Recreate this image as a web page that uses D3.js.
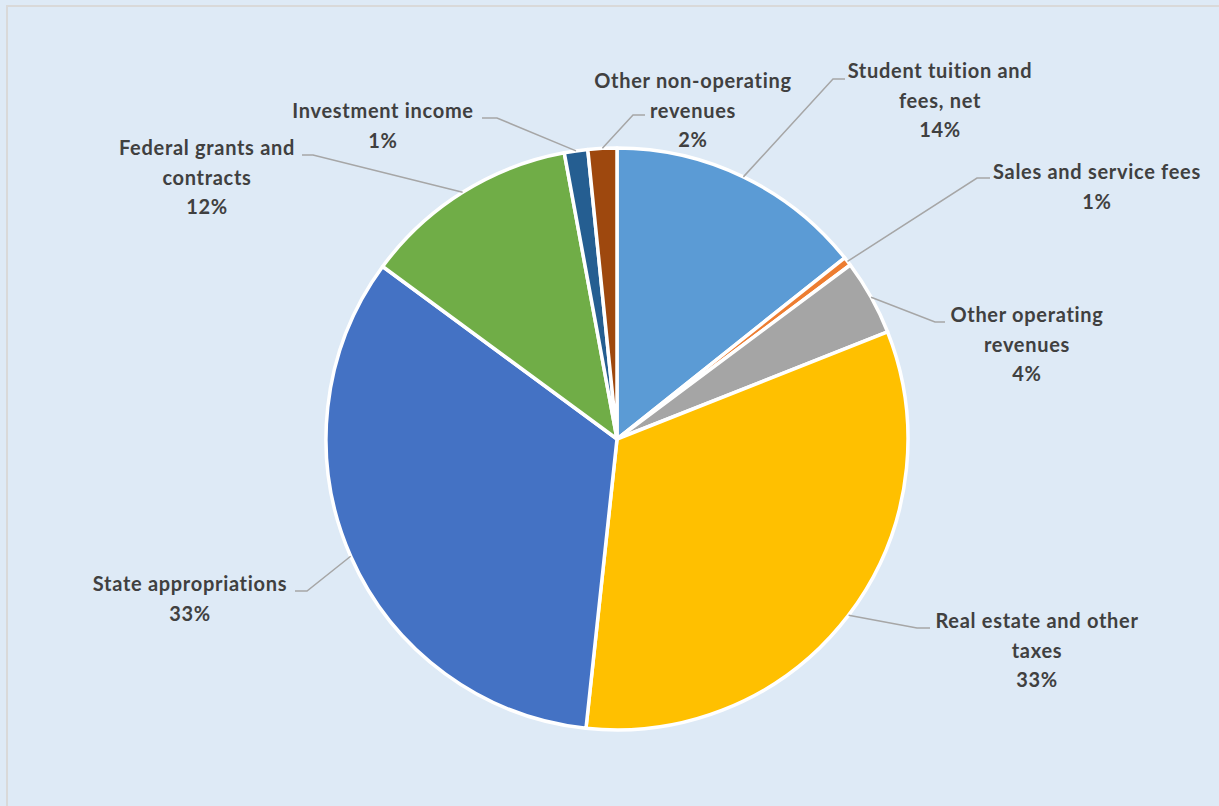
<!DOCTYPE html>
<html>
<head>
<meta charset="utf-8">
<script src="https://cdn.jsdelivr.net/npm/d3@7"></script>
<style>
  html, body { margin: 0; padding: 0; background: #DEEAF6; }
  svg { display: block; }
</style>
</head>
<body>
<svg id="chart" width="1219" height="806"></svg>
<script>
// revenue categories, clockwise from 12 o'clock
var categories = ["Student tuition and fees, net", "Sales and service fees", "Other operating revenues",
                  "Real estate and other taxes", "State appropriations", "Federal grants and contracts",
                  "Investment income", "Other non-operating revenues"];
var shares = [14.3, 0.5, 4.2, 32.7, 33.4, 12.0, 1.3, 1.6];
var colors = ["#5B9BD5", "#ED7D31", "#A5A5A5", "#FFC000", "#4472C4", "#70AD47", "#255E91", "#9E480E"];
// how each label's name is broken into lines
var labelLines = [["Student tuition and", "fees, net"], ["Sales and service fees"], ["Other operating", "revenues"],
                  ["Real estate and other", "taxes"], ["State appropriations"], ["Federal grants and", "contracts"],
                  ["Investment income"], ["Other non-operating", "revenues"]];

// label placement (layout only): text centre x, first line y, leader elbow, leader end
var labelLayout = [
  {x: 940,  y: 70,  elbow: [833, 79],  end: [845, 79]},
  {x: 1097, y: 171, elbow: [977, 178], end: [990, 178]},
  {x: 1027, y: 314, elbow: [935, 322], end: [945, 322]},
  {x: 1037, y: 620, elbow: [917, 628], end: [930, 628]},
  {x: 190,  y: 583, elbow: [307, 591], end: [295, 591]},
  {x: 207,  y: 147, elbow: [313, 155], end: [302, 155]},
  {x: 383,  y: 110, elbow: [497, 118], end: [482, 118]},
  {x: 693,  y: 80,  elbow: [633, 115], end: [645, 115]}
];

var svg = d3.select("#chart");
var centerX = 617, centerY = 439, radius = 291;
var lineStep = 29.5;
var total = d3.sum(shares);

// chart area border (only top and left visible)
svg.append("rect")
   .attr("x", 7).attr("y", 6)
   .attr("width", 1400).attr("height", 1000)
   .attr("fill", "#DEEAF6")
   .attr("stroke", "#D9D9D9")
   .attr("stroke-width", 2);

var pie = d3.pie().sort(null).value(function(d) { return d; });
var arcs = pie(shares);
var arc = d3.arc().innerRadius(0).outerRadius(radius);

var g = svg.append("g").attr("transform", "translate(" + centerX + "," + centerY + ")");

g.selectAll("path.slice")
   .data(arcs)
   .enter().append("path")
   .attr("class", "slice")
   .attr("d", arc)
   .attr("fill", function(d, i) { return colors[i]; })
   .attr("stroke", "white")
   .attr("stroke-width", 3.5)
   .attr("stroke-linejoin", "round");

// leader lines from the slice middle on the rim to the label
arcs.forEach(function(d, i) {
   var mid = (d.startAngle + d.endAngle) / 2;
   var px = centerX + radius * Math.sin(mid);
   var py = centerY - radius * Math.cos(mid);
   var lay = labelLayout[i];
   svg.append("polyline")
      .attr("points", [[px, py], lay.elbow, lay.end].map(function(p) { return p.join(","); }).join(" "))
      .attr("fill", "none")
      .attr("stroke", "#A6A6A6")
      .attr("stroke-width", 1.5);
});

// labels: name lines plus percentage
arcs.forEach(function(d, i) {
   var lay = labelLayout[i];
   var pct = Math.round(shares[i] / total * 100 + 1e-9) + "%";
   var lines = labelLines[i].concat([pct]);
   var t = svg.append("text")
      .attr("x", lay.x)
      .attr("y", lay.y)
      .attr("fill", "#404040")
      .attr("text-anchor", "middle")
      .attr("font-family", "Lato, 'Open Sans', sans-serif")
      .attr("font-weight", "bold")
      .attr("font-size", "20px")
      .attr("letter-spacing", "0.7px")
      .attr("dominant-baseline", "central");
   lines.forEach(function(l, k) {
      t.append("tspan")
         .attr("x", lay.x)
         .attr("y", lay.y + k * lineStep)
         .text(l);
   });
});
</script>
</body>
</html>
